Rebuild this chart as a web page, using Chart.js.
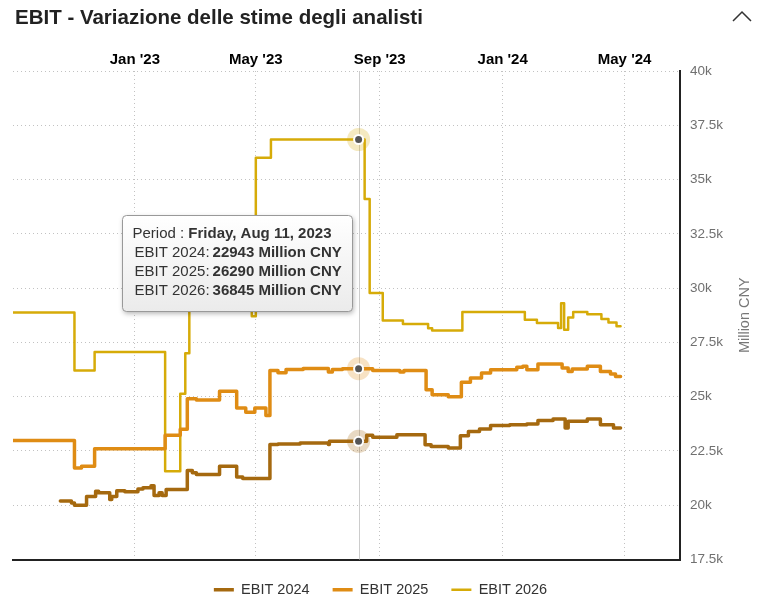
<!DOCTYPE html>
<html>
<head>
<meta charset="utf-8">
<title>EBIT - Variazione delle stime degli analisti</title>
<script src="https://cdn.jsdelivr.net/npm/chart.js@4.4.1/dist/chart.umd.min.js"></script>
<style>
    html, body { margin: 0; padding: 0; background: #fff; overflow: hidden; }
    #wrap { position: relative; width: 761px; height: 606px; overflow: hidden; }
    #chartBox { position: absolute; left: 0; top: 0; width: 761px; height: 607px; }
    #title { position: absolute; left: 15px; top: 5px; font: bold 20.5px "Liberation Sans", Arial, sans-serif; line-height: 23px; color: #222; white-space: nowrap; }
    #caret { position: absolute; left: 728px; top: 6px; }
</style>
</head>
<body>
<div id="wrap">
    <div id="chartBox"><canvas id="myChart"></canvas></div>
    <div id="title">EBIT - Variazione delle stime degli analisti</div>
    <svg id="caret" width="28" height="22"><polyline points="5,15 14,6 23,15" fill="none" stroke="#333" stroke-width="1.5"/></svg>
</div>
<script>
// series: change dates + values (Million CNY)
const seriesNames = ['EBIT 2024', 'EBIT 2025', 'EBIT 2026'];
const seriesColors = ['#a5690f', '#df8c14', '#d6ab08'];
const seriesHalos = ['rgba(165,105,15,0.25)', 'rgba(223,140,20,0.25)', 'rgba(214,171,8,0.25)'];
const seriesWidths = [3.5, 3.5, 2.5];

const ebit2024Dates = ['2022-10-19', '2022-10-30', '2022-11-02', '2022-11-14', '2022-11-23', '2022-11-26', '2022-12-07', '2022-12-09',
    '2022-12-14', '2022-12-22', '2023-01-04', '2023-01-09', '2023-01-17', '2023-01-20', '2023-01-25', '2023-01-28', '2023-02-01',
    '2023-02-22', '2023-02-27', '2023-03-03', '2023-03-26', '2023-04-12', '2023-04-18', '2023-05-15', '2023-05-23', '2023-06-14',
    '2023-07-12', '2023-07-13', '2023-08-19', '2023-08-25', '2023-09-18', '2023-10-16', '2023-10-22', '2023-11-08', '2023-11-20',
    '2023-11-28', '2023-12-09', '2023-12-20', '2024-01-08', '2024-01-25', '2024-02-05', '2024-02-20', '2024-03-03', '2024-03-06',
    '2024-03-25', '2024-04-07', '2024-04-20', '2024-04-27'];
const ebit2024Values = [20200, 20100, 20000, 20400, 20640, 20570, 20260, 20400,
    20670, 20620, 20750, 20800, 20900, 20450, 20570, 20450, 20720,
    21600, 21490, 21410, 21800, 21300, 21230, 22800, 22820, 22870,
    22800, 22943, 23220, 23130, 23250, 22790, 22710, 22640, 23200,
    23400, 23510, 23670, 23710, 23740, 23900, 23970, 23560, 23870,
    23970, 23710, 23560, 23560];

const ebit2025Dates = ['2022-09-02', '2022-11-02', '2022-11-09', '2022-11-22', '2023-01-31', '2023-02-15', '2023-02-22', '2023-03-03',
    '2023-03-26', '2023-04-12', '2023-04-21', '2023-04-30', '2023-05-11', '2023-05-15', '2023-05-23', '2023-05-31', '2023-06-17',
    '2023-07-12', '2023-07-16', '2023-07-26', '2023-08-25', '2023-09-21', '2023-09-25', '2023-10-17', '2023-10-23', '2023-11-08',
    '2023-11-21', '2023-11-30', '2023-12-11', '2023-12-20', '2024-01-15', '2024-01-21', '2024-01-25', '2024-02-05', '2024-02-29',
    '2024-03-06', '2024-03-10', '2024-03-25', '2024-04-07', '2024-04-17', '2024-04-22', '2024-04-27'];
const ebit2025Values = [22980, 21720, 21800, 22600, 23220, 23500, 24900, 24850,
    25250, 24480, 24280, 24480, 24130, 26200, 26100, 26250, 26300,
    26140, 26250, 26290, 26210, 26140, 26210, 25320, 25090, 25000,
    25660, 25860, 26090, 26240, 26350, 26400, 26240, 26500, 26320,
    26160, 26280, 26400, 26160, 26040, 25930, 25930];

const ebit2026Dates = ['2022-09-02', '2022-11-02', '2022-11-22', '2023-01-31', '2023-02-15', '2023-02-20', '2023-02-24', '2023-04-27',
    '2023-05-01', '2023-05-16', '2023-08-17', '2023-08-22', '2023-09-04', '2023-09-24', '2023-10-19', '2023-10-23', '2023-11-22',
    '2024-01-23', '2024-02-04', '2024-02-25', '2024-02-28', '2024-03-02', '2024-03-06', '2024-03-11', '2024-03-25', '2024-04-08',
    '2024-04-15', '2024-04-23', '2024-04-27'];
const ebit2026Values = [28880, 26210, 27060, 21560, 25140, 27000, 31500, 28700,
    36010, 36845, 34100, 29770, 28510, 28350, 28150, 28050, 28900,
    28540, 28390, 28160, 29300, 28080, 28650, 28900, 28800, 28580,
    28420, 28240, 28240];

const seriesDates = [ebit2024Dates, ebit2025Dates, ebit2026Dates];
const seriesValues = [ebit2024Values, ebit2025Values, ebit2026Values];

const tickDates = ['2023-01-01', '2023-05-01', '2023-09-01', '2024-01-01', '2024-05-01'];
const tickLabels = ["Jan '23", "May '23", "Sep '23", "Jan '24", "May '24"];
const xMinDate = '2022-09-02';
const xMaxDate = '2024-06-25';
const yMin = 17500, yMax = 40000, yStep = 2500;
const yTitle = 'Million CNY';
const unitText = 'Million CNY';
const hoverDate = '2023-08-11';

const FONT = '"Liberation Sans", Arial, sans-serif';

function toMs(s) {
    var p = s.split('-').map(Number);
    return Date.UTC(p[0], p[1] - 1, p[2]);
}

function valueAt(dates, values, ms) {
    var v = null;
    for (var i = 0; i < dates.length; i++) {
        if (toMs(dates[i]) <= ms) v = values[i];
    }
    return v;
}

const hoverMs = toMs(hoverDate);

const hoverLine = {
    id: 'hoverLine',
    beforeDatasetsDraw(chart) {
        const { ctx, chartArea, scales: { x } } = chart;
        const px = Math.round(x.getPixelForValue(hoverMs)) + 0.5;
        ctx.save();
        ctx.strokeStyle = '#cccccc';
        ctx.lineWidth = 1;
        ctx.beginPath();
        ctx.moveTo(px, chartArea.top);
        ctx.lineTo(px, chartArea.bottom);
        ctx.stroke();
        ctx.restore();
    }
};

const hoverMarkers = {
    id: 'hoverMarkers',
    afterDatasetsDraw(chart) {
        const { ctx, scales: { x, y } } = chart;
        const px = x.getPixelForValue(hoverMs);
        ctx.save();
        seriesNames.forEach((name, i) => {
            const v = valueAt(seriesDates[i], seriesValues[i], hoverMs);
            const py = y.getPixelForValue(v);
            ctx.fillStyle = seriesHalos[i];
            ctx.beginPath(); ctx.arc(px, py, 11.5, 0, Math.PI * 2); ctx.fill();
            ctx.fillStyle = '#ffffff';
            ctx.beginPath(); ctx.arc(px, py, 5.5, 0, Math.PI * 2); ctx.fill();
            ctx.fillStyle = '#555555';
            ctx.beginPath(); ctx.arc(px, py, 3.5, 0, Math.PI * 2); ctx.fill();
        });
        ctx.restore();
    }
};

const overlay = {
    id: 'overlay',
    afterDraw(chart) {
        const { ctx, chartArea, scales: { x, y } } = chart;
        // y axis title, reading bottom to top
        ctx.save();
        ctx.translate(745, (chartArea.top + chartArea.bottom) / 2);
        ctx.rotate(-Math.PI / 2);
        ctx.font = '14.5px ' + FONT;
        ctx.fillStyle = '#777777';
        ctx.textAlign = 'center';
        ctx.textBaseline = 'middle';
        ctx.fillText(yTitle, 0, 0);
        ctx.restore();

        // static tooltip
        const px = x.getPixelForValue(hoverMs);
        const bx = Math.round(px - 237) + 0.5, by = chartArea.top + 144.5, bw = 230, bh = 96;
        ctx.save();
        ctx.shadowColor = 'rgba(0,0,0,0.3)';
        ctx.shadowBlur = 5;
        ctx.shadowOffsetX = 1;
        ctx.shadowOffsetY = 2;
        const g = ctx.createLinearGradient(0, by, 0, by + bh);
        g.addColorStop(0, '#ffffff');
        g.addColorStop(1, '#ebebeb');
        ctx.fillStyle = g;
        ctx.beginPath();
        if (ctx.roundRect) ctx.roundRect(bx, by, bw, bh, 4); else ctx.rect(bx, by, bw, bh);
        ctx.fill();
        ctx.shadowColor = 'transparent';
        ctx.strokeStyle = '#999999';
        ctx.lineWidth = 1;
        ctx.stroke();

        const reg = '15px ' + FONT, bold = 'bold 15px ' + FONT;
        const dateStr = new Date(hoverMs).toLocaleDateString('en-US', { weekday: 'long', month: 'short', day: 'numeric', year: 'numeric', timeZone: 'UTC' });
        ctx.fillStyle = '#333333';
        ctx.textBaseline = 'middle';
        ctx.textAlign = 'left';
        let ty = by + 18;
        ctx.font = reg;
        ctx.fillText('Period : ', bx + 10, ty);
        let w = ctx.measureText('Period : ').width;
        ctx.font = bold;
        ctx.fillText(dateStr, bx + 10 + w, ty);
        seriesNames.forEach((name, i) => {
            ty += 19;
            const v = valueAt(seriesDates[i], seriesValues[i], hoverMs);
            ctx.font = reg;
            ctx.fillText(name + ':', bx + 12, ty);
            w = ctx.measureText(name + ':').width;
            ctx.font = bold;
            ctx.fillText(v + ' ' + unitText, bx + 15 + w, ty);
        });
        ctx.restore();
    }
};

const ctx = document.getElementById('myChart');
new Chart(ctx, {
    type: 'line',
    data: {
        datasets: seriesNames.map((name, i) => ({
            label: name,
            data: seriesDates[i].map((d, j) => ({ x: toMs(d), y: seriesValues[i][j] })),
            borderColor: seriesColors[i],
            backgroundColor: seriesColors[i],
            borderWidth: seriesWidths[i],
            borderJoinStyle: 'round',
            borderCapStyle: 'round',
            stepped: true,
            pointRadius: 0,
            fill: false,
            xAxisID: 'x',
            yAxisID: 'y'
        }))
    },
    options: {
        responsive: true,
        maintainAspectRatio: false,
        animation: false,
        events: [],
        layout: { padding: 0 },
        plugins: {
            legend: {
                position: 'bottom',
                labels: {
                    usePointStyle: true,
                    pointStyle: 'line',
                    pointStyleWidth: 20,
                    padding: 23,
                    color: '#333333',
                    font: { size: 14.5, family: FONT }
                }
            },
            tooltip: { enabled: false }
        },
        scales: {
            x: {
                type: 'linear',
                position: 'top',
                min: toMs(xMinDate),
                max: toMs(xMaxDate),
                afterFit: (scale) => { scale.height = 71; },
                afterBuildTicks: (scale) => { scale.ticks = tickDates.map(d => ({ value: toMs(d) })); },
                ticks: {
                    callback: (v, i) => tickLabels[i],
                    color: '#000000',
                    font: { size: 15, weight: 'bold', family: FONT },
                    padding: 2,
                    autoSkip: false,
                    maxRotation: 0
                },
                grid: { color: '#c2c2c2', lineWidth: 1, drawTicks: false },
                border: { display: false, dash: [1, 3] }
            },
            xb: {
                type: 'linear',
                position: 'bottom',
                min: toMs(xMinDate),
                max: toMs(xMaxDate),
                ticks: { display: false },
                grid: { display: false, drawTicks: false },
                border: { display: true, color: '#222222', width: 2 }
            },
            // empty left margin so the legend stays centred on the whole canvas
            yl: {
                type: 'linear',
                position: 'left',
                min: yMin,
                max: yMax,
                afterFit: (scale) => { scale.width = 13; },
                ticks: { display: false },
                grid: { display: false, drawTicks: false },
                border: { display: false }
            },
            y: {
                position: 'right',
                min: yMin,
                max: yMax,
                afterFit: (scale) => { scale.width = 81; },
                ticks: {
                    stepSize: yStep,
                    callback: (v) => (v / 1000) + 'k',
                    color: '#707070',
                    font: { size: 13.5, family: FONT },
                    padding: 10
                },
                grid: { color: '#c2c2c2', lineWidth: 1, drawTicks: false },
                border: { display: true, color: '#222222', width: 2, dash: [1, 3] }
            }
        }
    },
    plugins: [hoverLine, hoverMarkers, overlay]
});
</script>
</body>
</html>
